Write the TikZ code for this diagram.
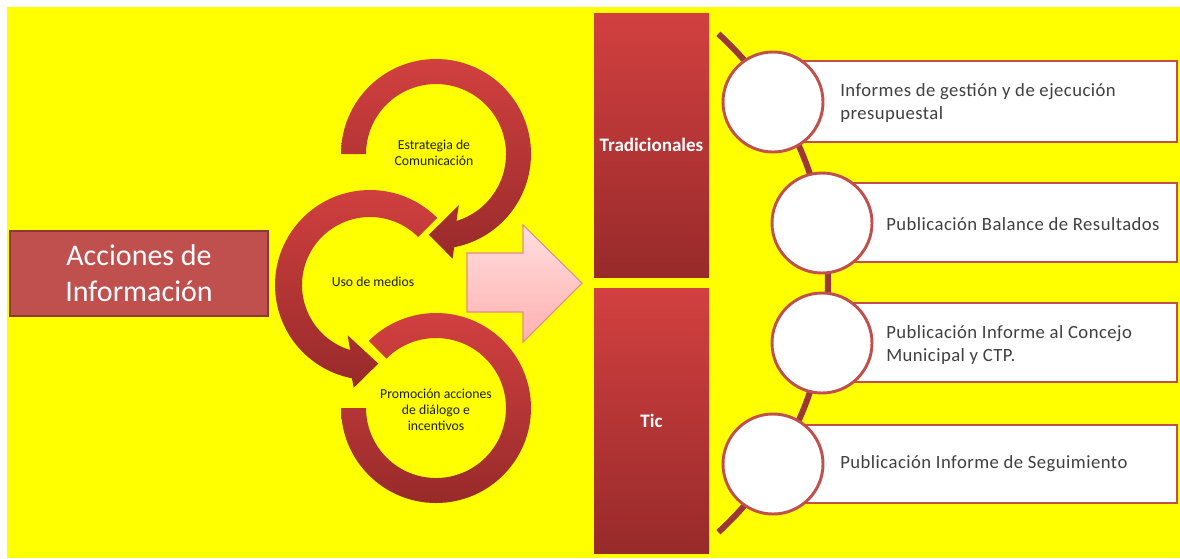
\documentclass[tikz,border=0pt]{standalone}
\usepackage{fontspec}
\setmainfont{Carlito}
\newfontfamily\itemfont[LetterSpace=2.5]{Carlito}
\usetikzlibrary{calc}
\definecolor{bgyellow}{RGB}{255,255,0}
\definecolor{ringtop}{RGB}{210,64,64}
\definecolor{ringbot}{RGB}{152,42,42}
\definecolor{boxred}{RGB}{192,80,77}
\definecolor{boxedge}{RGB}{140,56,54}
\definecolor{linered}{RGB}{155,55,55}
\definecolor{pinktop}{RGB}{255,222,222}
\definecolor{pinkbot}{RGB}{255,176,176}
\definecolor{pinkedge}{RGB}{226,140,140}
\definecolor{itemtext}{RGB}{64,64,64}
\definecolor{smalltext}{RGB}{30,30,30}
\begin{document}
\begin{tikzpicture}[x=0.75pt,y=-0.75pt,
  ring/.style={top color=ringtop, bottom color=ringbot, draw=none},
  barbox/.style={top color=ringtop, bottom color=ringbot, draw=none, text=white,
    font=\fontsize{14.3}{17}\selectfont\bfseries, inner sep=0pt},
  mainbox/.style={fill=boxred, draw=boxedge, line width=1.5pt, text=white, align=center,
    font=\fontsize{22.5}{27}\selectfont, inner sep=0pt},
  itembox/.style={fill=white, draw=boxred, line width=2pt, inner sep=0pt},
  itemcirc/.style={circle, fill=white, draw=boxred, line width=2.2pt, minimum size=75pt, inner sep=0pt},
  itemtext/.style={text=itemtext, align=left, anchor=west, inner sep=0pt,
    font=\itemfont\fontsize{14}{17.25}\selectfont},
  small/.style={text=smalltext, align=center, inner sep=0pt,
    font=\fontsize{10.3}{12}\selectfont}
]
\useasboundingbox (0,0) rectangle (1180,558);
\fill[white] (0,0) rectangle (1180,558);
\fill[bgyellow] (7,7) rectangle (1180,558);

% main box
\node[mainbox, minimum width=193.5pt, minimum height=63.75pt] (acc) at (139,273.5) {Acciones de\\Información};

% circular arrows
\coordinate (c1) at (436,154);
\coordinate (c2) at (370,285);
\coordinate (c3) at (436,408);
\shade[ring] ($(c3)+(180:95)$) arc[start angle=180,end angle=-135,radius=95]
  -- ($(c3)+(-135:70)$) arc[start angle=-135,end angle=180,radius=70] -- cycle;
\shade[ring] ($(c2)+(-45:95)$) arc[start angle=-45,end angle=-259,radius=95]
  -- ($(c2)+(99:104)$) -- ($(c2)+(84:79)$) -- ($(c2)+(114:55)$)
  -- ($(c2)+(107:68)$) arc[start angle=-253,end angle=-45,radius=68] -- cycle;
\shade[ring] ($(c1)+(180:95)$) arc[start angle=180,end angle=439,radius=95]
  -- ($(c1)+(81:106)$) -- ($(c1)+(95:81)$) -- ($(c1)+(66:56)$)
  -- ($(c1)+(73:70)$) arc[start angle=433,end angle=180,radius=70] -- cycle;

\node[small] (est) at (434,153) {Estrategia de\\Comunicación};
\node[small] (uso) at (373,282) {Uso de medios};
\node[small] (pro) at (436,410) {Promoción acciones\\de diálogo e\\incentivos};

% pink block arrow
\shade[top color=pinktop, bottom color=pinkbot, draw=pinkedge, line width=0.8pt]
  (467,253) -- (523,253) -- (523,225) -- (582,283) -- (523,342) -- (523,312) -- (467,312) -- cycle;

% bars
\node[barbox, minimum width=86.25pt, minimum height=198pt] (trad) at (651.5,145) {Tradicionales};
\node[barbox, minimum width=86.25pt, minimum height=198.75pt] (tic) at (651.5,420.5) {Tic};

% connecting arc
\coordinate (ltop) at ($(490,283)+(-47.5:338)$);
\draw[linered, line width=4.5pt] (ltop) arc[start angle=-47.5,end angle=47.5,radius=338] coordinate (lbot);

% items
\node[itembox, minimum width=303pt, minimum height=60.75pt] (r1) at (975,101.5) {};
\node[itembox, minimum width=266.25pt, minimum height=59.25pt] (r2) at (999.5,222.5) {};
\node[itembox, minimum width=266.25pt, minimum height=59.25pt] (r3) at (999.5,342.5) {};
\node[itembox, minimum width=303pt, minimum height=58.5pt] (r4) at (975,464) {};

\node[itemcirc] (k1) at (773,102) {};
\node[itemcirc] (k2) at (822,223) {};
\node[itemcirc] (k3) at (822,343) {};
\node[itemcirc] (k4) at (773,464) {};

\node[itemtext] (t1) at (840,103.5) {Informes de gestión y de ejecución\\presupuestal};
\node[itemtext] (t2) at (886,224) {Publicación Balance de Resultados};
\node[itemtext] (t3) at (886,345.5) {Publicación Informe al Concejo\\Municipal y CTP.};
\node[itemtext] (t4) at (840,464) {Publicación Informe de Seguimiento};
\end{tikzpicture}
\end{document}
